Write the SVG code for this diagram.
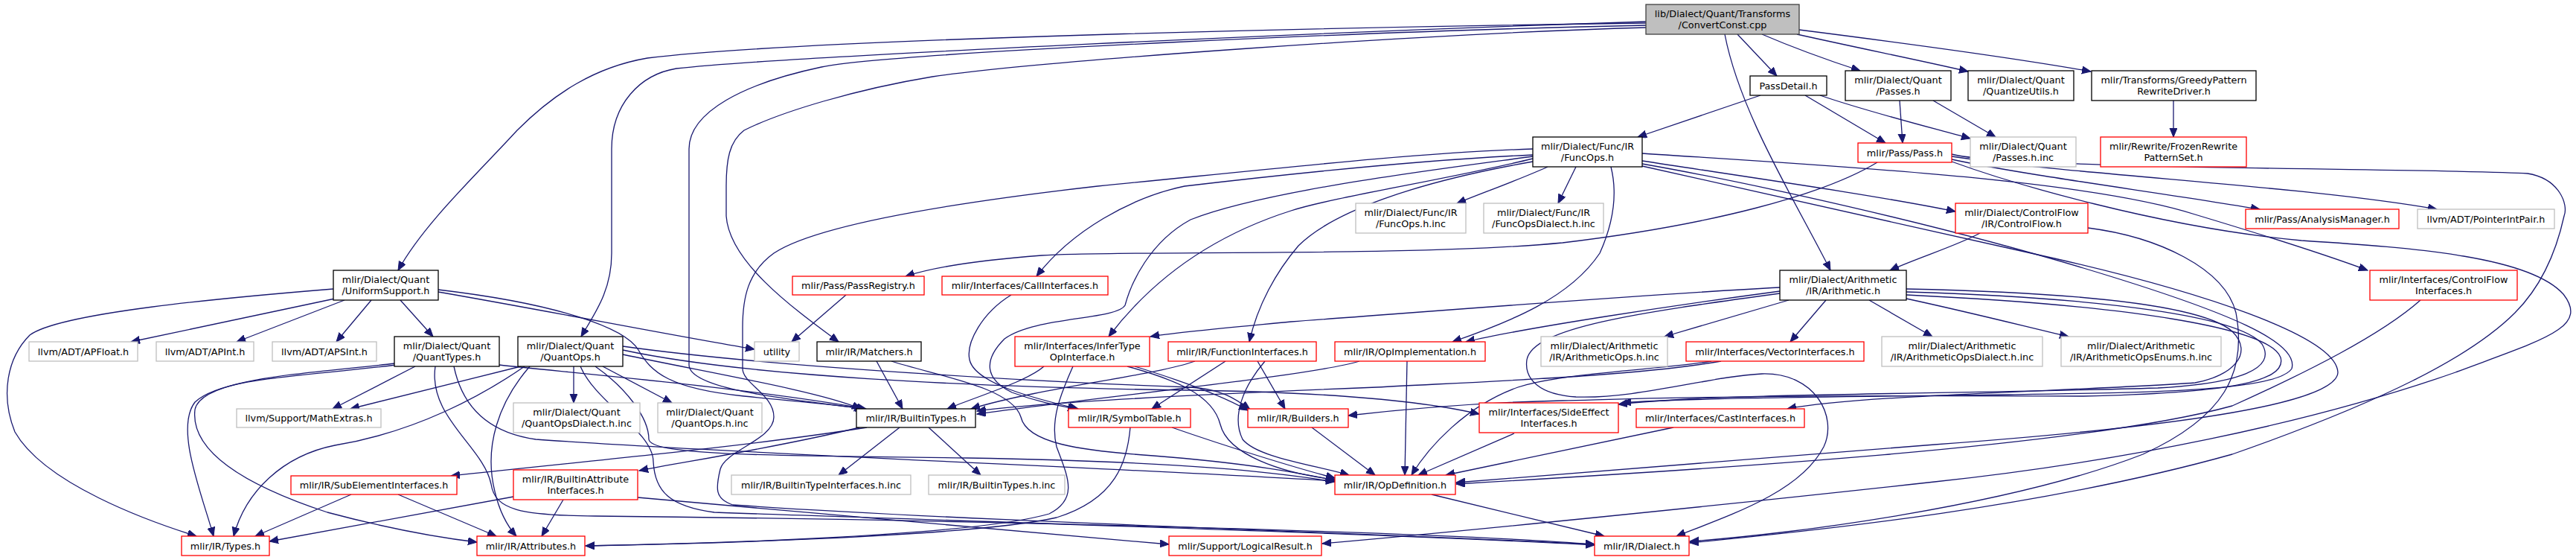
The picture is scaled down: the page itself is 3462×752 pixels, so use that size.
<svg xmlns="http://www.w3.org/2000/svg" width="3462" height="752" viewBox="0 0 3462 752">
<style>
.n rect{fill:#fff;stroke:#000;stroke-width:1.3}
.n.r rect{stroke:#ff0000}
.n.g rect{stroke:#bfbfbf}
.n.root rect{fill:#bfbfbf;stroke:#404040}
text{font-family:"DejaVu Sans","Liberation Sans",sans-serif;font-size:12.8px;fill:#000;text-anchor:middle}
#edges path{fill:none;stroke:#191970;stroke-width:1.3;marker-end:url(#a)}
</style>
<defs>
<marker id="a" markerWidth="14" markerHeight="11" refX="12" refY="5" orient="auto" markerUnits="userSpaceOnUse"><path d="M0,0 L12,5 L0,10 z" fill="#191970" stroke="#191970" stroke-width="1"/></marker>
</defs>
<rect width="3462" height="752" fill="#fff"/>
<g id="edges">
<path d="M2335,46 L2388,102"/>
<path d="M2368,46 C2410,64 2460,82 2500,95"/>
<path d="M2415,46 C2500,65 2590,83 2645,96"/>
<path d="M2418,40 C2560,58 2720,80 2810,96"/>
<path d="M2318,46 C2338,150 2410,265 2460,363"/>
<path d="M2212,31 C1900,35 1100,50 870,78 C800,90 745,125 695,175 C640,235 570,300 535,363"/>
<path d="M2212,29 C1800,42 1050,76 909,92 C860,100 822,140 822,200 L822,340 C822,390 800,420 781,452"/>
<path d="M2212,34 C1900,40 1200,70 1104,90 C1000,112 926,150 926,200 L926,490 C926,525 1080,538 1162,549"/>
<path d="M2212,37 C1900,46 1400,82 1253,103 C1150,120 1050,150 1000,175 C980,190 976,215 976,250 L976,290 C980,350 1060,410 1127,459"/>
<path d="M2366,128 L2201,184"/>
<path d="M2426,128 L2534,192"/>
<path d="M2446,128 C2510,150 2590,170 2648,186"/>
<path d="M2553,135 L2557,192"/>
<path d="M2598,135 L2682,184"/>
<path d="M2921,135 L2921,184"/>
<path d="M2523,218 C2450,262 2300,302 2100,326 C1900,345 1500,336 1400,343 C1320,349 1260,357 1217,371"/>
<path d="M2623,214 C2720,235 2900,258 3037,281"/>
<path d="M2623,210 C2800,236 3100,250 3275,281"/>
<path d="M2623,217 C2700,245 2900,305 3093,323 C3250,333 3400,345 3445,395 C3480,440 3420,455 3300,500 C3100,570 2850,620 2600,647 C2300,680 1950,715 1777,730"/>
<path d="M2623,207 C2700,228 3300,226 3397,233 C3440,240 3452,275 3446,290 C3435,340 3415,385 3380,420 C3320,480 3200,540 3000,610 C2750,680 2450,712 2271,729"/>
<path d="M2080,224 C2045,240 1995,258 1958,273"/>
<path d="M2118,224 L2094,273"/>
<path d="M2207,216 C2350,238 2520,262 2628,284"/>
<path d="M2060,208 C1900,215 1720,235 1592,250 C1520,265 1440,310 1393,371"/>
<path d="M2060,213 C1950,240 1790,265 1735,283 C1650,310 1560,360 1490,452"/>
<path d="M2060,217 C1900,245 1790,285 1745,330 C1715,365 1690,410 1679,459"/>
<path d="M2060,210 C1950,225 1700,255 1600,295 C1545,325 1520,380 1512,410 C1500,430 1390,425 1350,455 C1320,485 1325,510 1360,527 C1395,540 1425,545 1447,549"/>
<path d="M2060,200 C1900,205 1700,228 1475,250 C1300,270 1100,300 1040,340 C1005,365 998,400 998,440 L998,495 C998,515 1040,530 1040,560 C1040,590 975,605 968,630 C962,655 960,670 985,678 C1300,700 1900,718 2143,731"/>
<path d="M2165,224 C2174,260 2168,300 2150,340 C2110,400 2030,432 1952,459"/>
<path d="M2207,206 C2450,222 2800,240 2950,288 C3050,318 3120,340 3182,363"/>
<path d="M2207,220 C2350,245 2600,300 2800,360 C3000,420 3090,460 3080,495 C3060,525 2900,527 2700,530 C2450,533 2250,535 2180,541"/>
<path d="M2207,223 C2330,250 2550,300 2761,347 C2950,390 3140,450 3142,500 C3140,545 2900,575 2600,597 C2300,620 2100,636 1957,648"/>
<path d="M2661,313 C2630,330 2580,345 2540,363"/>
<path d="M2806,306 C2900,318 2990,360 3005,420 C3020,500 2990,560 2880,610 C2700,680 2400,718 2271,727"/>
<path d="M2392,386 C2200,396 1900,420 1735,432 C1650,440 1580,446 1546,452"/>
<path d="M2392,391 C2250,410 2050,440 1970,459"/>
<path d="M2404,403 L2237,452"/>
<path d="M2454,403 L2406,459"/>
<path d="M2512,403 L2597,452"/>
<path d="M2562,401 C2650,420 2720,438 2780,452"/>
<path d="M2392,394 C2200,420 2060,440 2052,483 C2048,510 2070,530 2118,533 C2200,536 2300,505 2368,502 C2440,500 2470,560 2451,600 C2420,660 2330,690 2253,720"/>
<path d="M2562,388 C2800,393 2960,410 3000,445 C3030,475 3000,505 2950,514 C2800,525 2500,530 2402,549"/>
<path d="M2562,392 C2830,400 3010,425 3040,462 C3060,495 3010,515 2900,521 C2600,530 2300,528 2175,543"/>
<path d="M2562,396 C2860,410 3050,440 3065,480 C3075,515 2980,528 2800,532 C2300,530 2190,536 2100,538 C2000,540 1900,548 1812,558"/>
<path d="M3253,403 C3200,450 3100,500 3000,545 C2800,600 2300,630 1957,650"/>
<path d="M450,401 L176,459"/>
<path d="M463,403 L318,459"/>
<path d="M499,403 L452,459"/>
<path d="M538,403 L582,452"/>
<path d="M448,388 C300,400 80,420 40,450 C10,480 0,530 20,580 C60,650 200,700 264,720"/>
<path d="M589,392 C750,420 900,450 1014,469"/>
<path d="M589,389 C750,408 840,440 858,470 C875,500 900,522 1000,532 C1080,540 1130,544 1160,549"/>
<path d="M532,490 C420,505 300,505 262,540 C235,575 270,660 287,720"/>
<path d="M531,488 C410,502 270,508 262,550 C255,610 340,655 440,688 C530,712 590,722 641,728"/>
<path d="M558,492 L447,549"/>
<path d="M671,490 C760,500 1000,520 1164,549"/>
<path d="M610,492 C620,540 650,580 720,590 C1000,610 1500,628 1794,646"/>
<path d="M585,492 C575,560 650,600 660,650 C665,685 700,692 800,693 C1200,697 1900,712 2143,731"/>
<path d="M771,492 L771,541"/>
<path d="M810,492 L903,541"/>
<path d="M700,492 L471,549"/>
<path d="M705,492 C650,530 560,580 450,598 C380,612 330,660 314,720"/>
<path d="M712,492 C670,540 650,600 665,660 C672,690 685,710 694,720"/>
<path d="M837,476 C950,500 1100,525 1157,549"/>
<path d="M800,492 C840,520 872,560 872,590 C875,610 1000,612 1300,615 C1600,620 1720,635 1794,647"/>
<path d="M780,492 C800,540 878,580 878,620 C880,660 900,680 960,688 C1300,700 1900,718 2143,732"/>
<path d="M837,470 C1000,505 1300,520 1600,524 C1800,527 1920,540 1988,556"/>
<path d="M837,465 C1050,495 1450,515 1600,520 C1640,522 1660,535 1680,550"/>
<path d="M1137,396 L1064,459"/>
<path d="M1359,396 C1320,420 1298,460 1303,483 C1310,515 1390,535 1449,549"/>
<path d="M1178,485 L1213,549"/>
<path d="M1198,485 C1260,505 1360,520 1372,560 C1380,595 1450,605 1550,612 C1680,622 1750,636 1794,645"/>
<path d="M1403,492 C1380,512 1320,530 1273,549"/>
<path d="M1442,492 C1430,520 1410,560 1420,600 C1435,640 1450,670 1410,690 C1300,722 900,731 787,733"/>
<path d="M1515,492 C1580,510 1630,530 1640,570 C1650,610 1720,635 1794,644"/>
<path d="M1525,492 C1590,512 1640,530 1677,551"/>
<path d="M1606,485 C1550,505 1400,520 1305,549"/>
<path d="M1647,485 L1548,549"/>
<path d="M1690,485 L1727,549"/>
<path d="M1700,485 C1670,520 1655,560 1670,590 C1690,615 1770,625 1813,638"/>
<path d="M1891,485 L1888,638"/>
<path d="M1827,485 C1760,505 1500,530 1313,556"/>
<path d="M2300,485 C2250,495 2100,500 2040,520 C1970,545 1920,600 1897,638"/>
<path d="M2313,485 C2200,505 2000,512 1850,520 C1600,530 1400,540 1313,552"/>
<path d="M2249,574 L1943,638"/>
<path d="M2035,582 L1906,638"/>
<path d="M1763,574 L1848,638"/>
<path d="M1519,574 C1515,620 1500,670 1420,695 C1300,722 900,731 787,733"/>
<path d="M1575,574 C1650,600 1740,628 1794,642"/>
<path d="M1165,574 C1000,600 800,618 606,639"/>
<path d="M1155,574 C1050,600 920,620 859,632"/>
<path d="M1209,574 L1127,638"/>
<path d="M1248,574 L1318,638"/>
<path d="M472,664 L343,720"/>
<path d="M535,664 L667,720"/>
<path d="M690,667 L362,727"/>
<path d="M757,671 L728,720"/>
<path d="M857,668 C1100,690 1400,715 1571,731"/>
<path d="M1924,664 L2156,720"/>
</g>
<g id="n_root" class="n root"><rect x="2212" y="6" width="206" height="40"/><text x="2315" y="22.5">lib/Dialect/Quant/Transforms</text><text x="2315" y="37.5">/ConvertConst.cpp</text></g>
<g id="n_passdetail" class="n"><rect x="2352" y="102" width="103" height="26"/><text x="2403.5" y="119.5">PassDetail.h</text></g>
<g id="n_quant_passes" class="n"><rect x="2480" y="95" width="142" height="40"/><text x="2551" y="111.5">mlir/Dialect/Quant</text><text x="2551" y="126.5">/Passes.h</text></g>
<g id="n_quantizeutils" class="n"><rect x="2645" y="95" width="142" height="40"/><text x="2716" y="111.5">mlir/Dialect/Quant</text><text x="2716" y="126.5">/QuantizeUtils.h</text></g>
<g id="n_greedy" class="n"><rect x="2811" y="95" width="221" height="40"/><text x="2921.5" y="111.5">mlir/Transforms/GreedyPattern</text><text x="2921.5" y="126.5">RewriteDriver.h</text></g>
<g id="n_funcops" class="n"><rect x="2060" y="184" width="147" height="40"/><text x="2133.5" y="200.5">mlir/Dialect/Func/IR</text><text x="2133.5" y="215.5">/FuncOps.h</text></g>
<g id="n_pass" class="n r"><rect x="2497" y="192" width="126" height="26"/><text x="2560" y="209.5">mlir/Pass/Pass.h</text></g>
<g id="n_passes_inc" class="n g"><rect x="2648" y="184" width="142" height="40"/><text x="2719" y="200.5">mlir/Dialect/Quant</text><text x="2719" y="215.5">/Passes.h.inc</text></g>
<g id="n_frozen" class="n r"><rect x="2823" y="184" width="196" height="40"/><text x="2921" y="200.5">mlir/Rewrite/FrozenRewrite</text><text x="2921" y="215.5">PatternSet.h</text></g>
<g id="n_funcops_inc" class="n g"><rect x="1822" y="273" width="148" height="40"/><text x="1896" y="289.5">mlir/Dialect/Func/IR</text><text x="1896" y="304.5">/FuncOps.h.inc</text></g>
<g id="n_funcopsdialect_inc" class="n g"><rect x="1994" y="273" width="161" height="40"/><text x="2074.5" y="289.5">mlir/Dialect/Func/IR</text><text x="2074.5" y="304.5">/FuncOpsDialect.h.inc</text></g>
<g id="n_controlflow" class="n r"><rect x="2628" y="273" width="178" height="40"/><text x="2717" y="289.5">mlir/Dialect/ControlFlow</text><text x="2717" y="304.5">/IR/ControlFlow.h</text></g>
<g id="n_analysismanager" class="n r"><rect x="3018" y="281" width="206" height="26"/><text x="3121" y="298.5">mlir/Pass/AnalysisManager.h</text></g>
<g id="n_pointerintpair" class="n g"><rect x="3249" y="281" width="184" height="26"/><text x="3341" y="298.5">llvm/ADT/PointerIntPair.h</text></g>
<g id="n_uniformsupport" class="n"><rect x="448" y="363" width="141" height="40"/><text x="518.5" y="379.5">mlir/Dialect/Quant</text><text x="518.5" y="394.5">/UniformSupport.h</text></g>
<g id="n_passregistry" class="n r"><rect x="1065" y="371" width="177" height="25"/><text x="1153.5" y="388">mlir/Pass/PassRegistry.h</text></g>
<g id="n_callinterfaces" class="n r"><rect x="1266" y="371" width="223" height="25"/><text x="1377.5" y="388">mlir/Interfaces/CallInterfaces.h</text></g>
<g id="n_arithmetic" class="n"><rect x="2392" y="363" width="170" height="40"/><text x="2477" y="379.5">mlir/Dialect/Arithmetic</text><text x="2477" y="394.5">/IR/Arithmetic.h</text></g>
<g id="n_cfinterfaces" class="n r"><rect x="3185" y="363" width="198" height="40"/><text x="3284" y="379.5">mlir/Interfaces/ControlFlow</text><text x="3284" y="394.5">Interfaces.h</text></g>
<g id="n_apfloat" class="n g"><rect x="39" y="459" width="146" height="26"/><text x="112" y="476.5">llvm/ADT/APFloat.h</text></g>
<g id="n_apint" class="n g"><rect x="210" y="459" width="131" height="26"/><text x="275.5" y="476.5">llvm/ADT/APInt.h</text></g>
<g id="n_apsint" class="n g"><rect x="366" y="459" width="140" height="26"/><text x="436" y="476.5">llvm/ADT/APSInt.h</text></g>
<g id="n_quanttypes" class="n"><rect x="530" y="452" width="141" height="40"/><text x="600.5" y="468.5">mlir/Dialect/Quant</text><text x="600.5" y="483.5">/QuantTypes.h</text></g>
<g id="n_quantops" class="n"><rect x="696" y="452" width="141" height="40"/><text x="766.5" y="468.5">mlir/Dialect/Quant</text><text x="766.5" y="483.5">/QuantOps.h</text></g>
<g id="n_utility" class="n g"><rect x="1014" y="459" width="60" height="26"/><text x="1044" y="476.5">utility</text></g>
<g id="n_matchers" class="n"><rect x="1098" y="459" width="140" height="26"/><text x="1168" y="476.5">mlir/IR/Matchers.h</text></g>
<g id="n_infertype" class="n r"><rect x="1364" y="452" width="181" height="40"/><text x="1454.5" y="468.5">mlir/Interfaces/InferType</text><text x="1454.5" y="483.5">OpInterface.h</text></g>
<g id="n_functioninterfaces" class="n r"><rect x="1570" y="459" width="199" height="26"/><text x="1669.5" y="476.5">mlir/IR/FunctionInterfaces.h</text></g>
<g id="n_opimplementation" class="n r"><rect x="1794" y="459" width="202" height="26"/><text x="1895" y="476.5">mlir/IR/OpImplementation.h</text></g>
<g id="n_arithops_inc" class="n g"><rect x="2071" y="452" width="170" height="40"/><text x="2156" y="468.5">mlir/Dialect/Arithmetic</text><text x="2156" y="483.5">/IR/ArithmeticOps.h.inc</text></g>
<g id="n_vectorinterfaces" class="n r"><rect x="2266" y="459" width="239" height="26"/><text x="2385.5" y="476.5">mlir/Interfaces/VectorInterfaces.h</text></g>
<g id="n_arithopsdialect_inc" class="n g"><rect x="2529" y="452" width="216" height="40"/><text x="2637" y="468.5">mlir/Dialect/Arithmetic</text><text x="2637" y="483.5">/IR/ArithmeticOpsDialect.h.inc</text></g>
<g id="n_arithopsenums_inc" class="n g"><rect x="2770" y="452" width="215" height="40"/><text x="2877.5" y="468.5">mlir/Dialect/Arithmetic</text><text x="2877.5" y="483.5">/IR/ArithmeticOpsEnums.h.inc</text></g>
<g id="n_mathextras" class="n g"><rect x="318" y="549" width="194" height="25"/><text x="415" y="566">llvm/Support/MathExtras.h</text></g>
<g id="n_quantopsdialect_inc" class="n g"><rect x="690" y="541" width="170" height="40"/><text x="775" y="557.5">mlir/Dialect/Quant</text><text x="775" y="572.5">/QuantOpsDialect.h.inc</text></g>
<g id="n_quantops_inc" class="n g"><rect x="884" y="541" width="140" height="40"/><text x="954" y="557.5">mlir/Dialect/Quant</text><text x="954" y="572.5">/QuantOps.h.inc</text></g>
<g id="n_builtintypes" class="n"><rect x="1151" y="549" width="160" height="25"/><text x="1231" y="566">mlir/IR/BuiltinTypes.h</text></g>
<g id="n_symboltable" class="n r"><rect x="1436" y="549" width="164" height="25"/><text x="1518" y="566">mlir/IR/SymbolTable.h</text></g>
<g id="n_builders" class="n r"><rect x="1677" y="549" width="135" height="25"/><text x="1744.5" y="566">mlir/IR/Builders.h</text></g>
<g id="n_sideeffect" class="n r"><rect x="1988" y="541" width="187" height="40"/><text x="2081.5" y="557.5">mlir/Interfaces/SideEffect</text><text x="2081.5" y="572.5">Interfaces.h</text></g>
<g id="n_castinterfaces" class="n r"><rect x="2199" y="549" width="226" height="25"/><text x="2312" y="566">mlir/Interfaces/CastInterfaces.h</text></g>
<g id="n_subelement" class="n r"><rect x="391" y="639" width="223" height="25"/><text x="502.5" y="656">mlir/IR/SubElementInterfaces.h</text></g>
<g id="n_builtinattrifaces" class="n r"><rect x="690" y="631" width="167" height="40"/><text x="773.5" y="647.5">mlir/IR/BuiltinAttribute</text><text x="773.5" y="662.5">Interfaces.h</text></g>
<g id="n_builtintypeifaces_inc" class="n g"><rect x="983" y="638" width="241" height="26"/><text x="1103.5" y="655.5">mlir/IR/BuiltinTypeInterfaces.h.inc</text></g>
<g id="n_builtintypes_inc" class="n g"><rect x="1248" y="638" width="183" height="26"/><text x="1339.5" y="655.5">mlir/IR/BuiltinTypes.h.inc</text></g>
<g id="n_opdefinition" class="n r"><rect x="1794" y="638" width="162" height="26"/><text x="1875" y="655.5">mlir/IR/OpDefinition.h</text></g>
<g id="n_types" class="n r"><rect x="244" y="720" width="118" height="26"/><text x="303" y="737.5">mlir/IR/Types.h</text></g>
<g id="n_attributes" class="n r"><rect x="641" y="720" width="145" height="26"/><text x="713.5" y="737.5">mlir/IR/Attributes.h</text></g>
<g id="n_logicalresult" class="n r"><rect x="1571" y="720" width="205" height="26"/><text x="1673.5" y="737.5">mlir/Support/LogicalResult.h</text></g>
<g id="n_dialect" class="n r"><rect x="2143" y="720" width="127" height="26"/><text x="2206.5" y="737.5">mlir/IR/Dialect.h</text></g>
</svg>
